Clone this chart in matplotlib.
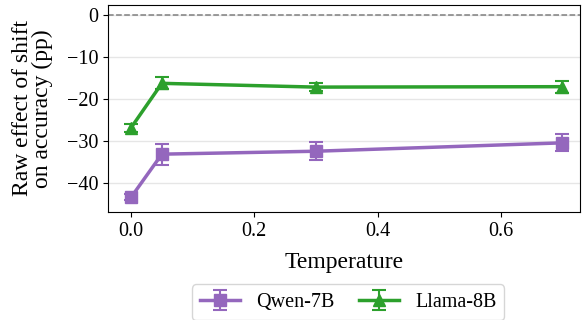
import matplotlib
matplotlib.use("Agg")
import matplotlib.pyplot as plt

temps = [0.0, 0.05, 0.3, 0.7]
qwen_mean = [-43.5, -33.2, -32.5, -30.5]
qwen_err = [0.7, 2.5, 2.1, 2.0]
llama_mean = [-26.9, -16.3, -17.2, -17.1]
llama_err = [1.0, 1.4, 1.0, 1.4]

plt.rcParams["font.family"] = ["Liberation Serif", "DejaVu Serif"]
plt.rcParams["mathtext.fontset"] = "stix"

fig = plt.figure(figsize=(5.82, 3.2), dpi=100)
ax = fig.add_axes([0.186, 0.3375, 0.811, 0.647])

ax.axhline(0, color="gray", ls="--", lw=1.1, zorder=1)
ax.errorbar(temps, qwen_mean, yerr=qwen_err, color="#9467bd", marker="s", ms=8,
            lw=2.5, capsize=5, elinewidth=1.5, capthick=1.5, label="Qwen-7B", zorder=3)
ax.errorbar(temps, llama_mean, yerr=llama_err, color="#2ca02c", marker="^", ms=9,
            lw=2.5, capsize=5, elinewidth=1.5, capthick=1.5, label="Llama-8B", zorder=3)

ax.set_xlim(-0.037, 0.729)
ax.set_ylim(-47, 2.4)
ax.set_yticks([0, -10, -20, -30, -40])
ax.set_xticks([0.0, 0.2, 0.4, 0.6])
ax.yaxis.grid(True, color="#e6e6e6", lw=1)
ax.set_axisbelow(True)
ax.tick_params(labelsize=14.5)
ax.set_xlabel("Temperature", fontsize=17, labelpad=8)
ax.set_ylabel("Raw effect of shift\non accuracy (pp)", fontsize=17, linespacing=0.95,
              labelpad=10)

fig.legend(loc="center", bbox_to_anchor=(0.598, 0.056), ncol=2, fontsize=14.5,
           frameon=True, fancybox=True, handlelength=2.0, columnspacing=1.2)

fig.savefig("out.png", dpi=100)
